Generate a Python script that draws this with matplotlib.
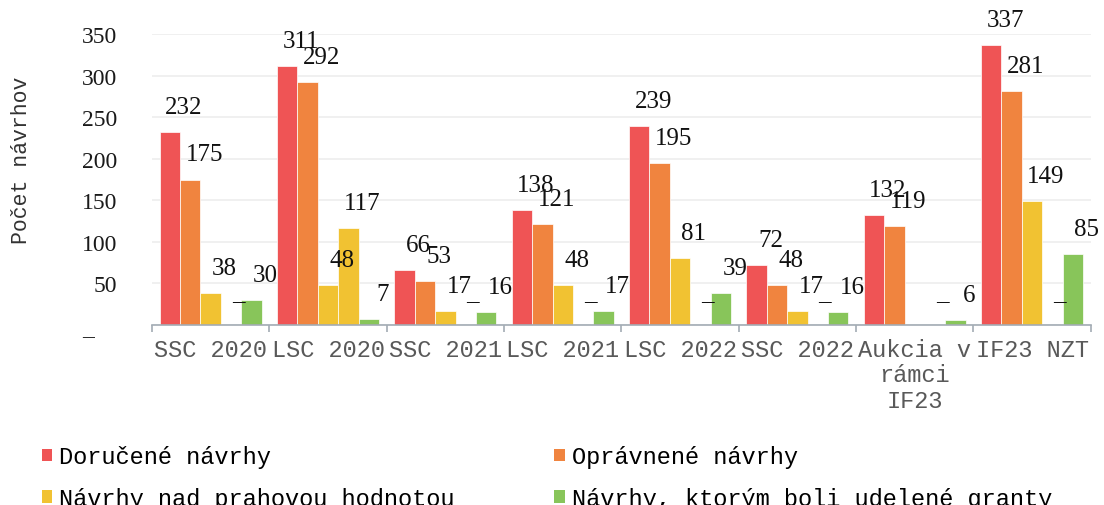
import matplotlib
matplotlib.use("Agg")
import matplotlib.pyplot as plt
import numpy as np
from matplotlib.patches import Patch
from matplotlib.ticker import FixedLocator, FuncFormatter

# data
categories = ["SSC 2020", "LSC 2020", "SSC 2021", "LSC 2021",
              "LSC 2022", "SSC 2022", "Aukcia v\nrámci\nIF23", "IF23 NZT"]
received = [232, 311, 66, 138, 239, 72, 132, 337]
eligible = [175, 292, 53, 121, 195, 48, 119, 281]
above_threshold = [38, 48, 17, 48, 81, 17, None, 149]
extra = [0, 117, 0, 0, 0, 0, 0, 0]  # unnamed series, not in legend
granted = [30, 7, 16, 17, 39, 16, 6, 85]

series = [received, eligible, above_threshold, extra, granted]
names = ["Doručené návrhy", "Oprávnené návrhy", "Návrhy nad prahovou hodnotou",
         None, "Návrhy, ktorým boli udelené granty"]
colors = ["#EF5455", "#F0843F", "#F1C232", "#F1C232", "#88C55A"]

SERIF = "Liberation Serif"
MONO = "Liberation Mono"

fig = plt.figure(figsize=(11.04, 5.06), dpi=100)
ax = fig.add_axes([0.1377, 0.3557, 0.8503, 0.5751])

x = np.arange(len(categories))
w = 0.174
for i, vals in enumerate(series):
    for j, v in enumerate(vals):
        if v is None:
            continue
        xpos = x[j] + (i - 2) * w
        ax.bar(xpos, v, width=w, color=colors[i], edgecolor="white", linewidth=0.5, zorder=2)
        if v == 0:
            txt, dx = "–", 5
        else:
            txt, dx = f"{v}", 10
        ax.annotate(txt, xy=(xpos, v), xytext=(dx, 13.7), textcoords="offset points",
                    ha="center", va="baseline", fontsize=18, family=SERIF,
                    color="#111111", annotation_clip=False, zorder=3)

ax.set_xlim(-0.5, len(categories) - 0.5)
ax.set_ylim(0, 350)
ax.set_yticks(np.arange(0, 351, 50))
ax.yaxis.set_major_formatter(FuncFormatter(lambda v, _: "_\u2007\u2007" if v == 0 else f"{v:.0f}"))
ax.tick_params(axis="y", length=0, pad=25, labelsize=17, labelcolor="#1a1a1a")
for lab in ax.get_yticklabels():
    lab.set_family([SERIF, "DejaVu Serif"])

ax.set_xticks(x)
ax.set_xticklabels(categories, fontsize=17, family=MONO, color="#595959", linespacing=1.15)
ax.xaxis.set_minor_locator(FixedLocator(np.arange(-0.5, len(categories), 1.0)))
ax.tick_params(axis="x", which="major", length=0, pad=9)
ax.tick_params(axis="x", which="minor", length=5, width=1.2, color="#A3ACB4")

ax.grid(axis="y", color="#EEEEEE", linewidth=1.2, zorder=0)
ax.set_axisbelow(True)
for side in ("left", "top", "right"):
    ax.spines[side].set_visible(False)
ax.spines["bottom"].set_color("#A3ACB4")
ax.spines["bottom"].set_linewidth(1.2)

ax.set_ylabel("Počet návrhov", fontsize=15.5, family=MONO, color="#333333")
ax.yaxis.set_label_coords(-0.128, 0.57)

# legend: column-major order to get rows as in the reference
order = [0, 2, 1, 4]
handles = [Patch(facecolor=colors[k], edgecolor="none") for k in order]
labels = [names[k] for k in order]
fig.legend(handles, labels, loc="upper left", bbox_to_anchor=(0.0376, 0.118),
           ncol=2, frameon=False, prop={"family": MONO, "size": 17},
           handlelength=0.45, handleheight=0.45, handletextpad=0.3,
           columnspacing=4.2, labelspacing=0.78, borderpad=0, borderaxespad=0)

fig.savefig("out.png", dpi=100)
